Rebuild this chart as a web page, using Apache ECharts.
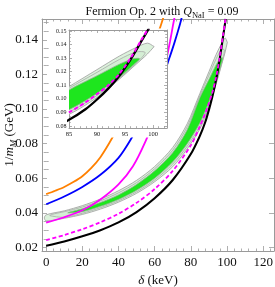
<!DOCTYPE html>
<html><head><meta charset="utf-8">
<script src="https://cdn.jsdelivr.net/npm/echarts@6/dist/echarts.min.js"></script>
<style>html,body{margin:0;padding:0;background:#fff}#c{width:275px;height:287px}</style>
</head><body><div id="c"></div>
<script>
// ---------- data ----------
const xMajor = [0, 20, 40, 60, 80, 100, 120];
const yMajor = [0.02, 0.04, 0.06, 0.08, 0.10, 0.12, 0.14];
const insetXMajor = [85, 90, 95, 100];
const insetYMajor = [0.08, 0.09, 0.10, 0.11, 0.12, 0.13, 0.14, 0.15];

const blackX = [0, 10, 20, 30, 40, 50, 60, 70, 80, 85, 88, 90, 92, 94, 96, 98, 99.3];
const blackY = [0.0210, 0.0235, 0.0265, 0.0300, 0.0345, 0.0405, 0.0485, 0.0590, 0.0740, 0.0845, 0.0925, 0.0995, 0.1075, 0.1170, 0.1290, 0.1430, 0.1520];

const magDashX = [0, 10, 20, 30, 40, 50, 60, 70, 80, 85, 88, 90, 92, 94, 96, 98, 99.2];
const magDashY = [0.0243, 0.0272, 0.0306, 0.0346, 0.0395, 0.0458, 0.0538, 0.0643, 0.0790, 0.0900, 0.0975, 0.1035, 0.1100, 0.1185, 0.1300, 0.1440, 0.1520];

const orangeX = [0, 5, 10, 15, 20, 25, 30, 35, 40, 45, 50, 55, 60, 63, 65];
const orangeY = [0.0508, 0.0528, 0.0550, 0.0578, 0.0612, 0.0660, 0.0722, 0.0805, 0.0900, 0.1005, 0.1120, 0.1245, 0.1380, 0.1470, 0.1535];

const blueX = [0, 10, 20, 30, 40, 47, 55, 60, 65, 68, 71, 74, 75];
const blueY = [0.0450, 0.0495, 0.0550, 0.0620, 0.0718, 0.0828, 0.0980, 0.1085, 0.1200, 0.1290, 0.1385, 0.1490, 0.1530];

const magX = [0, 10, 20, 30, 40, 48, 55, 60, 64, 66.6, 68.5, 70.2, 71];
const magY = [0.0344, 0.0375, 0.0415, 0.0478, 0.0565, 0.0670, 0.0815, 0.0950, 0.1120, 0.1290, 0.1390, 0.1487, 0.1530];

// allowed region (outer contour)
const outerLoX = [-1, 0, 10, 20, 30, 40, 50, 60, 70, 78, 85, 90, 94, 97, 99, 100.2];
const outerLoY = [0.0371, 0.0354, 0.0369, 0.0391, 0.0422, 0.0462, 0.0513, 0.0580, 0.0667, 0.0770, 0.0885, 0.1010, 0.1145, 0.1255, 0.1330, 0.1385];
const outerHiX = [0, 10, 20, 30, 40, 50, 60, 70, 78, 85, 90, 94, 97, 99, 100.2];
const outerHiY = [0.0389, 0.0412, 0.0442, 0.0480, 0.0528, 0.0588, 0.0668, 0.0778, 0.0915, 0.1090, 0.1215, 0.1315, 0.1378, 0.1410, 0.1385];
// middle contour
const midLoX = [2, 10, 20, 30, 40, 50, 60, 70, 78, 85, 90, 94, 97, 98.6];
const midLoY = [0.0384, 0.0375, 0.0398, 0.0430, 0.0470, 0.0522, 0.0590, 0.0682, 0.0785, 0.0902, 0.1025, 0.1152, 0.1262, 0.1340];
const midHiX = [3, 10, 20, 30, 40, 50, 60, 70, 78, 85, 90, 94, 97];
const midHiY = [0.0391, 0.0407, 0.0434, 0.0470, 0.0516, 0.0575, 0.0655, 0.0762, 0.0898, 0.1078, 0.1195, 0.1290, 0.1345];
// best-fit (bright) region
const innerLoX = [12, 20, 30, 40, 50, 60, 70, 78, 85, 90, 94, 96.5, 97.6];
const innerLoY = [0.0400, 0.0407, 0.0438, 0.0478, 0.0531, 0.0600, 0.0695, 0.0800, 0.0920, 0.1040, 0.1160, 0.1250, 0.1295];
const innerHiX = [13, 20, 30, 40, 50, 60, 70, 78, 85, 90, 94, 96.5];
const innerHiY = [0.0405, 0.0424, 0.0460, 0.0504, 0.0564, 0.0643, 0.0748, 0.0880, 0.1065, 0.1170, 0.1255, 0.1295];

// ---------- layout / style ----------
const SERIF = '"Liberation Serif", "DejaVu Serif", serif';
const FRAME = '#9a9a9a';
const MAIN = {left: 42, top: 19, width: 232, height: 232, xmin: -2.3, xmax: 126, ymin: 0.018, ymax: 0.152};
const INSET = {left: 69, top: 30, width: 98, height: 98, xmin: 85, xmax: 102.5, ymin: 0.0785, ymax: 0.1507};

function minors(lo, hi, step, majors) {
  const out = [];
  for (let v = Math.ceil(lo / step - 1e-9) * step; v <= hi + 1e-12; v += step) {
    const r = Math.round(v / step) * step;
    if (!majors.some(m => Math.abs(m - r) < step / 10)) out.push(+r.toFixed(6));
  }
  return out;
}
const xMinor = minors(MAIN.xmin, MAIN.xmax, 4, xMajor);
const yMinor = minors(MAIN.ymin, MAIN.ymax, 0.005, yMajor);
const ixMinor = minors(INSET.xmin, INSET.xmax, 1, insetXMajor);
const iyMinor = minors(INSET.ymin, INSET.ymax, 0.0025, insetYMajor);

const zip = (xs, ys) => xs.map((x, i) => [x, ys[i]]);

function axisPair(dim, grid, pos, R, ticks, len, labels, labelOpts, z, extra) {
  const isX = dim === 'x';
  return Object.assign({
    type: 'value', gridIndex: grid, position: pos,
    min: isX ? R.xmin : R.ymin, max: isX ? R.xmax : R.ymax,
    z: z,
    axisLine: {show: true, onZero: false, lineStyle: {color: FRAME, width: 1}},
    axisTick: {show: true, inside: true, length: len, customValues: ticks, lineStyle: {color: FRAME, width: 0.8}},
    axisLabel: labels ? Object.assign({customValues: labels, fontFamily: SERIF, color: '#111', hideOverlap: false}, labelOpts) : {show: false},
    splitLine: {show: false}
  }, extra || {});
}

// axis indices: 0,1 main major; 2,3 main minor; 4,5 inset major; 6,7 inset minor
const xAxes = [
  axisPair('x', 0, 'bottom', MAIN, xMajor, 5, xMajor, {fontSize: 13, margin: 5}, 0, {
    name: '{i|δ} (keV)', nameLocation: 'middle', nameGap: 22,
    nameTextStyle: {fontFamily: SERIF, fontSize: 13, color: '#111', rich: {i: {fontFamily: SERIF, fontStyle: 'italic', fontSize: 13, color: '#111'}}}
  }),
  axisPair('x', 0, 'top', MAIN, xMajor, 5, null, null, 0),
  axisPair('x', 1, 'bottom', MAIN, xMinor, 2.5, null, null, 0, {axisLine: {show: false}}),
  axisPair('x', 1, 'top', MAIN, xMinor, 2.5, null, null, 0, {axisLine: {show: false}}),
  axisPair('x', 2, 'bottom', INSET, insetXMajor, 3, insetXMajor, {fontSize: 6.5, margin: 3}, 12),
  axisPair('x', 2, 'top', INSET, insetXMajor, 3, null, null, 12),
  axisPair('x', 3, 'bottom', INSET, ixMinor, 1.8, null, null, 12, {axisLine: {show: false}}),
  axisPair('x', 3, 'top', INSET, ixMinor, 1.8, null, null, 12, {axisLine: {show: false}})
];
const yAxes = [
  axisPair('y', 0, 'left', MAIN, yMajor, 5, yMajor, {fontSize: 13, margin: 4, formatter: v => v.toFixed(2)}, 0),
  axisPair('y', 0, 'right', MAIN, yMajor, 5, null, null, 0),
  axisPair('y', 1, 'left', MAIN, yMinor, 2.5, null, null, 0, {axisLine: {show: false}}),
  axisPair('y', 1, 'right', MAIN, yMinor, 2.5, null, null, 0, {axisLine: {show: false}}),
  axisPair('y', 2, 'left', INSET, insetYMajor, 3, insetYMajor, {fontSize: 6, margin: 2.5, formatter: v => v.toFixed(2)}, 12),
  axisPair('y', 2, 'right', INSET, insetYMajor, 3, null, null, 12),
  axisPair('y', 3, 'left', INSET, iyMinor, 1.8, null, null, 12, {axisLine: {show: false}}),
  axisPair('y', 3, 'right', INSET, iyMinor, 1.8, null, null, 12, {axisLine: {show: false}})
];

function region(axisIdx, loX, loY, hiX, hiY, fill, stroke, z) {
  return {
    type: 'custom', xAxisIndex: axisIdx, yAxisIndex: axisIdx, z: z, clip: true, silent: true,
    data: [[loX[0], loY[0]]],
    renderItem: function (params, api) {
      const pts = [];
      for (let i = 0; i < loX.length; i++) pts.push(api.coord([loX[i], loY[i]]));
      for (let i = hiX.length - 1; i >= 0; i--) pts.push(api.coord([hiX[i], hiY[i]]));
      return {type: 'polygon', shape: {points: pts, smooth: 0.3}, style: {fill: fill, stroke: stroke, lineWidth: 0.8}};
    }
  };
}
function curve(axisIdx, xs, ys, color, width, dash, z) {
  return {
    type: 'line', xAxisIndex: axisIdx, yAxisIndex: axisIdx, data: zip(xs, ys), z: z,
    showSymbol: false, symbol: 'none', smooth: 0.3, clip: true, silent: true,
    lineStyle: {color: color, width: width, type: dash ? [4, 2.5] : 'solid'}
  };
}

function seriesFor(axisIdx, zBase, lw, withSide) {
  const s = [
    region(axisIdx, outerLoX, outerLoY, outerHiX, outerHiY, '#dcf2dc', '#9c9c9c', zBase),
    region(axisIdx, midLoX, midLoY, midHiX, midHiY, '#d4eed4', '#a8a8a8', zBase + 0.1),
    region(axisIdx, innerLoX, innerLoY, innerHiX, innerHiY, '#1ee61e', '#8fb08f', zBase + 0.2)
  ];
  if (withSide) {
    s.push(curve(axisIdx, orangeX, orangeY, '#ff8000', lw, false, zBase + 1));
    s.push(curve(axisIdx, blueX, blueY, '#0000ff', lw, false, zBase + 1));
    s.push(curve(axisIdx, magX, magY, '#ff00ff', lw, false, zBase + 1));
  }
  s.push(curve(axisIdx, blackX, blackY, '#000000', lw + 0.3, false, zBase + 2));
  s.push(curve(axisIdx, magDashX, magDashY, '#ff00ff', lw, true, zBase + 3));
  return s;
}

const gridBox = R => ({left: R.left, top: R.top, width: R.width, height: R.height, outerBoundsMode: 'none', containLabel: false});

const chart = echarts.init(document.getElementById('c'), null, {renderer: 'canvas'});
chart.setOption({
  animation: false,
  backgroundColor: '#ffffff',
  title: {
    text: '{a|Fermion Op. 2 with }{i|Q}{s|NaI}{a| = 0.09}',
    left: MAIN.left + MAIN.width / 2 - 1, top: -1, textAlign: 'center',
    textStyle: {fontFamily: SERIF, fontSize: 12, fontWeight: 'normal', color: '#111', lineHeight: 16, rich: {
      a: {fontFamily: SERIF, fontSize: 12, color: '#111', lineHeight: 16},
      i: {fontFamily: SERIF, fontSize: 12, fontStyle: 'italic', color: '#111', lineHeight: 16},
      s: {fontFamily: SERIF, fontSize: 8.5, color: '#111', lineHeight: 8, verticalAlign: 'bottom'}
    }}
  },
  grid: [gridBox(MAIN), gridBox(MAIN), gridBox(INSET), gridBox(INSET)],
  xAxis: xAxes,
  yAxis: yAxes,
  graphic: [{
    type: 'rect', z: 8, silent: true,
    shape: {x: INSET.left - 16, y: INSET.top - 1.5, width: INSET.width + 17, height: INSET.height + 11},
    style: {fill: '#ffffff'}
  }, {
    type: 'text', z: 20, silent: true,
    x: 10, y: MAIN.top + MAIN.height / 2, rotation: Math.PI / 2,
    style: {
      text: '1/{i|m}{s|M} (GeV)', align: 'center', verticalAlign: 'middle',
      fontFamily: SERIF, fontSize: 13, fill: '#111', lineHeight: 16,
      rich: {
        i: {fontFamily: SERIF, fontStyle: 'italic', fontSize: 13, fill: '#111', lineHeight: 16},
        s: {fontFamily: SERIF, fontStyle: 'italic', fontSize: 9, fill: '#111', lineHeight: 9, verticalAlign: 'bottom'}
      }
    }
  }],
  series: seriesFor(0, 2, 1.8, true).concat(seriesFor(4, 13, 2, false))
});
</script>
</body></html>
